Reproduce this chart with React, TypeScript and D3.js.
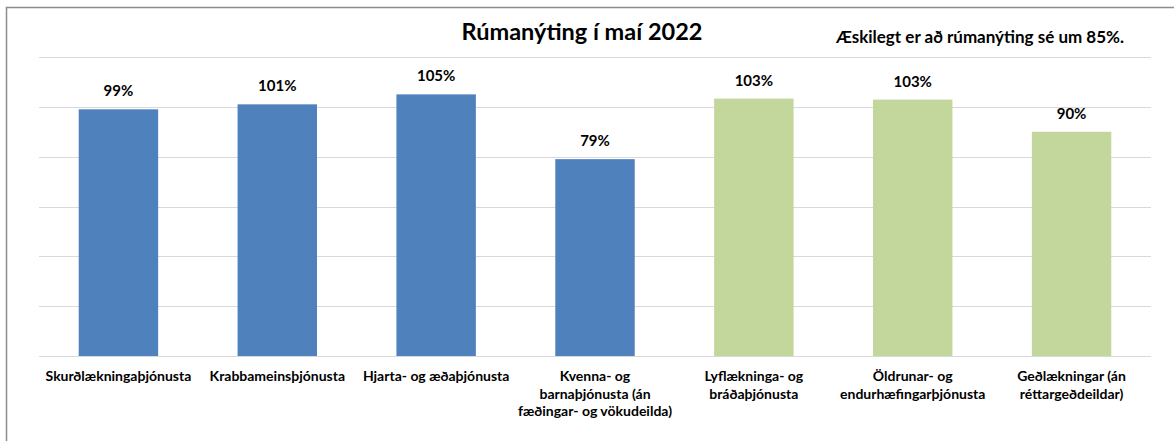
import * as d3 from "d3";
import { useEffect, useRef } from "react";

const categories = [
  ["Skurðlækningaþjónusta"],
  ["Krabbameinsþjónusta"],
  ["Hjarta- og æðaþjónusta"],
  ["Kvenna- og", "barnaþjónusta (án", "fæðingar- og vökudeilda)"],
  ["Lyflækninga- og", "bráðaþjónusta"],
  ["Öldrunar- og", "endurhæfingarþjónusta"],
  ["Geðlækningar (án", "réttargeðdeildar)"],
];
const values = [99, 101, 105, 79, 103.3, 102.9, 90];
const labels = ["99%", "101%", "105%", "79%", "103%", "103%", "90%"];
const groups = ["blue", "blue", "blue", "blue", "green", "green", "green"];
const yTicks = [0, 20, 40, 60, 80, 100, 120];

const TITLE = "Rúmanýting í maí 2022";
const NOTE = "Æskilegt er að rúmanýting sé um 85%.";

const COLORS = {
  blue: "#4F81BD",
  green: "#C3D69B",
  grid: "#D9D9D9",
  border: "#8C8C8C",
  text: "#000000",
};

const FONT = "Lato, 'Open Sans', sans-serif";

const WIDTH = 1174;
const HEIGHT = 441;
const margin = { top: 57, left: 39, right: 23, bottom: 85 };

export default function App() {
  const svgRef = useRef<SVGSVGElement | null>(null);

  useEffect(() => {
    document.body.style.margin = "0";
    if (!svgRef.current) return;

    const svg = d3.select(svgRef.current);
    svg.selectAll("*").remove();

    const innerHeight = HEIGHT - margin.top - margin.bottom;

    const x = d3
      .scaleBand<number>()
      .domain(d3.range(categories.length))
      .range([margin.left, WIDTH - margin.right])
      .paddingInner(0.5)
      .paddingOuter(0.25);

    const y = d3
      .scaleLinear()
      .domain([0, 120])
      .range([margin.top + innerHeight, margin.top]);

    // border (top and left only, as in the picture)
    svg
      .append("path")
      .attr("d", `M6.5,${HEIGHT}V7.5H${WIDTH}`)
      .attr("fill", "none")
      .attr("stroke", COLORS.border)
      .attr("stroke-width", 1.5);

    // gridlines
    svg
      .append("g")
      .selectAll("line")
      .data(yTicks)
      .join("line")
      .attr("x1", margin.left)
      .attr("x2", WIDTH - margin.right)
      .attr("y1", (d) => Math.round(y(d)) + 0.5)
      .attr("y2", (d) => Math.round(y(d)) + 0.5)
      .attr("stroke", COLORS.grid)
      .attr("stroke-width", 1.2);

    // bars
    svg
      .append("g")
      .selectAll("rect")
      .data(values)
      .join("rect")
      .attr("x", (_, i) => x(i)!)
      .attr("width", x.bandwidth())
      .attr("y", (d) => y(d))
      .attr("height", (d) => y(0) - y(d))
      .attr("fill", (_, i) => COLORS[groups[i] as "blue" | "green"]);

    // value labels
    svg
      .append("g")
      .selectAll("text")
      .data(values)
      .join("text")
      .attr("x", (_, i) => x(i)! + x.bandwidth() / 2)
      .attr("y", (d) => y(d) - 13)
      .attr("text-anchor", "middle")
      .attr("font-family", FONT)
      .attr("font-weight", "bold")
      .attr("font-size", 15)
      .attr("fill", COLORS.text)
      .text((_, i) => labels[i]);

    // category labels
    const cat = svg
      .append("g")
      .selectAll("text")
      .data(categories)
      .join("text")
      .attr("text-anchor", "middle")
      .attr("font-family", FONT)
      .attr("font-weight", "bold")
      .attr("font-size", 14)
      .attr("fill", COLORS.text);

    cat
      .selectAll("tspan")
      .data((d) => d)
      .join("tspan")
      .attr("x", function () {
        const i = categories.indexOf(
          d3.select(this.parentNode as SVGTextElement).datum() as string[]
        );
        return x(i)! + x.bandwidth() / 2;
      })
      .attr("y", (_, j) => y(0) + 25 + j * 17.5)
      .text((d) => d);

    // title
    svg
      .append("text")
      .attr("x", 582)
      .attr("y", 40)
      .attr("text-anchor", "middle")
      .attr("font-family", FONT)
      .attr("font-weight", "bold")
      .attr("font-size", 23.5)
      .attr("fill", COLORS.text)
      .text(TITLE);

    // note
    svg
      .append("text")
      .attr("x", 980)
      .attr("y", 43)
      .attr("text-anchor", "middle")
      .attr("font-family", FONT)
      .attr("font-weight", "bold")
      .attr("font-size", 17)
      .attr("fill", COLORS.text)
      .text(NOTE);
  }, []);

  return (
    <svg
      ref={svgRef}
      width={WIDTH}
      height={HEIGHT}
      style={{ display: "block", background: "#fff" }}
    />
  );
}
